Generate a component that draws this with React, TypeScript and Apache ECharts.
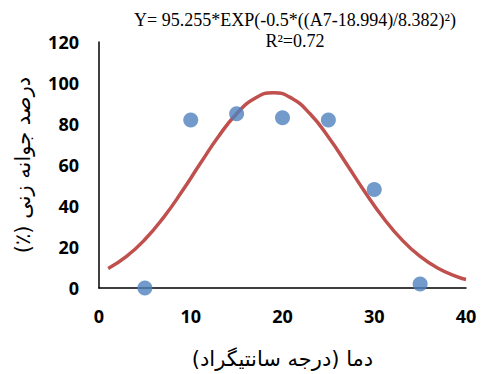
import React, { useEffect, useRef } from "react";
import * as echarts from "echarts";

const pointX = [5, 10, 15, 20, 25, 30, 35];
const pointY = [0, 82, 85, 83, 82, 48, 2];
const curveX = [1, 3, 5, 7, 9, 11, 13, 15, 17, 19, 21, 23, 25, 27, 29, 31, 33, 35, 37, 39, 40];
const curveY = [9.51, 15.43, 23.64, 34.22, 46.79, 60.45, 73.77, 85.03, 92.6, 95.26, 92.57, 84.97, 73.69, 60.37, 46.71, 34.15, 23.58, 15.39, 9.48, 5.52, 4.12];
const xTicks = [0, 10, 20, 30, 40];
const yTicks = [0, 20, 40, 60, 80, 100, 120];
const equation = "Y= 95.255*EXP(-0.5*((A7-18.994)/8.382)²)";
const rSquared = "R²=0.72";
const xName = "\u200Fدما (درجه سانتیگراد)\u200F";
const yName = "\u200Fدرصد جوانه زنی (٪)\u200F";

export default function App() {
  const ref = useRef<HTMLDivElement>(null);
  useEffect(() => {
    const chart = echarts.init(ref.current!, null, { renderer: "svg" });
    const tickFont = { fontFamily: "Open Sans, Liberation Sans, sans-serif", fontWeight: "bold" as const, fontSize: 18, color: "#000" };
    chart.setOption({
      animation: false,
      backgroundColor: "#fff",
      grid: { left: 99, right: 15, top: 42, bottom: 84 },
      xAxis: {
        type: "value",
        min: xTicks[0],
        max: xTicks[xTicks.length - 1],
        interval: 10,
        axisLine: { lineStyle: { color: "#000", width: 1.5 } },
        axisTick: { show: false },
        splitLine: { show: false },
        axisLabel: { ...tickFont, margin: 19 },
        name: xName,
        nameLocation: "middle",
        nameGap: 60,
        nameTextStyle: { fontFamily: "DejaVu Sans", fontSize: 21, color: "#000" },
      },
      yAxis: {
        type: "value",
        min: yTicks[0],
        max: yTicks[yTicks.length - 1],
        interval: 20,
        axisLine: { show: true, lineStyle: { color: "#000", width: 1.5 } },
        axisTick: { show: false },
        splitLine: { show: false },
        axisLabel: { ...tickFont, margin: 20 },
        name: yName,
        nameLocation: "middle",
        nameGap: 66,
        nameRotate: 90,
        nameTextStyle: { fontFamily: "DejaVu Sans", fontSize: 21, color: "#000" },
      },
      series: [
        {
          type: "line",
          data: curveX.map((x, i) => [x, curveY[i]]),
          smooth: true,
          showSymbol: false,
          lineStyle: { color: "#c0504d", width: 3.5 },
          z: 2,
        },
        {
          type: "scatter",
          data: pointX.map((x, i) => [x, pointY[i]]),
          symbolSize: 15,
          itemStyle: { color: "#4f81bd" },
          z: 3,
        },
      ],
      graphic: [
        {
          type: "text",
          x: 295,
          y: 20,
          style: { text: equation, fontFamily: "Liberation Serif", fontSize: 18, fill: "#000", textAlign: "center", textVerticalAlign: "middle" },
        },
        {
          type: "text",
          x: 295,
          y: 41,
          style: { text: rSquared, fontFamily: "Liberation Serif", fontSize: 18, fill: "#000", textAlign: "center", textVerticalAlign: "middle" },
        },
      ],
    });
    return () => chart.dispose();
  }, []);
  return <div ref={ref} style={{ width: 481, height: 374, position: "absolute", left: 0, top: 0 }} />;
}
